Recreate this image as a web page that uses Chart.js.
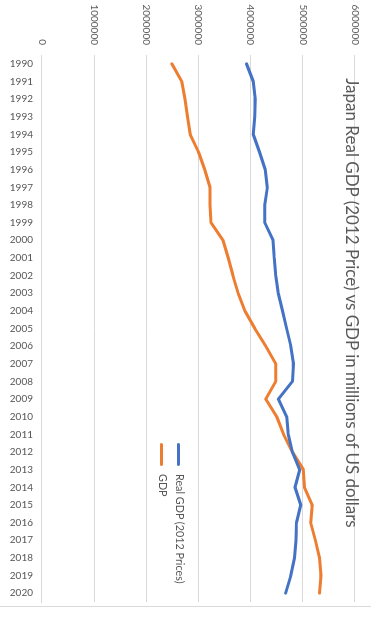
<!DOCTYPE html>
<html lang="en">
<head>
    <meta charset="UTF-8">
    <title>Japan Real GDP vs GDP</title>
    <script src="https://cdn.jsdelivr.net/npm/chart.js"></script>
    <style>
        body { margin: 0; background: #fff; }
        /* the whole chart is turned a quarter turn clockwise */
        #wrap {
            position: absolute; left: 0; top: 0;
            width: 629px; height: 371px;
            transform-origin: 0 0;
            transform: translate(371px, 0) rotate(90deg);
            font-family: Lato, sans-serif;
            color: #595959;
        }
        #title {
            position: absolute; left: 0; top: 10px; width: 606px;
            text-align: center; font-size: 17px; line-height: 1;
        }
        #legend { position: absolute; left: 443px; top: 182px; font-size: 10.8px; }
        #legend div { height: 17.3px; line-height: 17.3px; white-space: nowrap; }
        #legend span {
            display: inline-block; width: 23px; height: 3px;
            vertical-align: middle; margin-right: 8px; border-radius: 2px;
        }
        #edge { position: absolute; left: 606px; top: 0; width: 1px; height: 371px; background: #d9d9d9; }
    </style>
</head>
<body>
<div id="wrap">
    <canvas id="gdpChart" width="629" height="371"></canvas>
    <div id="title">Japan Real GDP (2012 Price) vs GDP in millions of US dollars</div>
    <div id="legend">
        <div><span style="background:#4472C4"></span>Real GDP (2012 Prices)</div>
        <div><span style="background:#ED7D31"></span>GDP</div>
    </div>
    <div id="edge"></div>
</div>

<script>
    const years = ['1990', '1991', '1992', '1993', '1994', '1995', '1996', '1997', '1998', '1999',
        '2000', '2001', '2002', '2003', '2004', '2005', '2006', '2007', '2008', '2009',
        '2010', '2011', '2012', '2013', '2014', '2015', '2016', '2017', '2018', '2019', '2020'];

    const realGdp = [3920000, 4050000, 4090000, 4080000, 4050000, 4170000, 4280000, 4320000, 4270000, 4270000,
        4430000, 4450000, 4480000, 4530000, 4610000, 4690000, 4770000, 4820000, 4800000, 4530000,
        4690000, 4720000, 4800000, 4940000, 4850000, 4960000, 4880000, 4870000, 4840000, 4770000, 4670000];

    const gdp = [2490000, 2680000, 2740000, 2790000, 2840000, 3000000, 3120000, 3220000, 3220000, 3240000,
        3470000, 3570000, 3660000, 3760000, 3890000, 4080000, 4290000, 4480000, 4480000, 4290000,
        4500000, 4630000, 4800000, 5010000, 5030000, 5180000, 5150000, 5240000, 5320000, 5350000, 5320000];

    const tickFont = { family: 'Lato', size: 10 };

    const ctx = document.getElementById('gdpChart').getContext('2d');
    new Chart(ctx, {
        type: 'line',
        data: {
            labels: years,
            datasets: [{
                label: 'Real GDP (2012 Prices)',
                data: realGdp,
                borderColor: '#4472C4',
                borderWidth: 3,
                pointRadius: 0,
                tension: 0,
                borderCapStyle: 'round',
                borderJoinStyle: 'round',
                fill: false
            }, {
                label: 'GDP',
                data: gdp,
                borderColor: '#ED7D31',
                borderWidth: 3,
                pointRadius: 0,
                tension: 0,
                borderCapStyle: 'round',
                borderJoinStyle: 'round',
                fill: false
            }]
        },
        options: {
            responsive: false,
            animation: false,
            layout: { padding: { top: 13, right: 27, left: 0, bottom: 0 } },
            plugins: {
                legend: { display: false },
                title: { display: false },
                tooltip: { enabled: false }
            },
            scales: {
                x: {
                    offset: true,
                    afterFit: scale => { scale.height = 42; },
                    grid: { display: false, drawTicks: false },
                    border: { color: '#d9d9d9' },
                    ticks: {
                        autoSkip: false,
                        minRotation: 90,
                        maxRotation: 90,
                        padding: 9,
                        color: '#595959',
                        font: tickFont
                    }
                },
                y: {
                    min: 0,
                    max: 6000000,
                    afterFit: scale => { scale.width = 55; },
                    grid: { color: '#d9d9d9', drawTicks: false },
                    border: { display: false },
                    ticks: {
                        stepSize: 1000000,
                        padding: 10,
                        color: '#595959',
                        font: tickFont,
                        callback: value => String(value)
                    }
                }
            }
        }
    });
</script>
</body>
</html>
